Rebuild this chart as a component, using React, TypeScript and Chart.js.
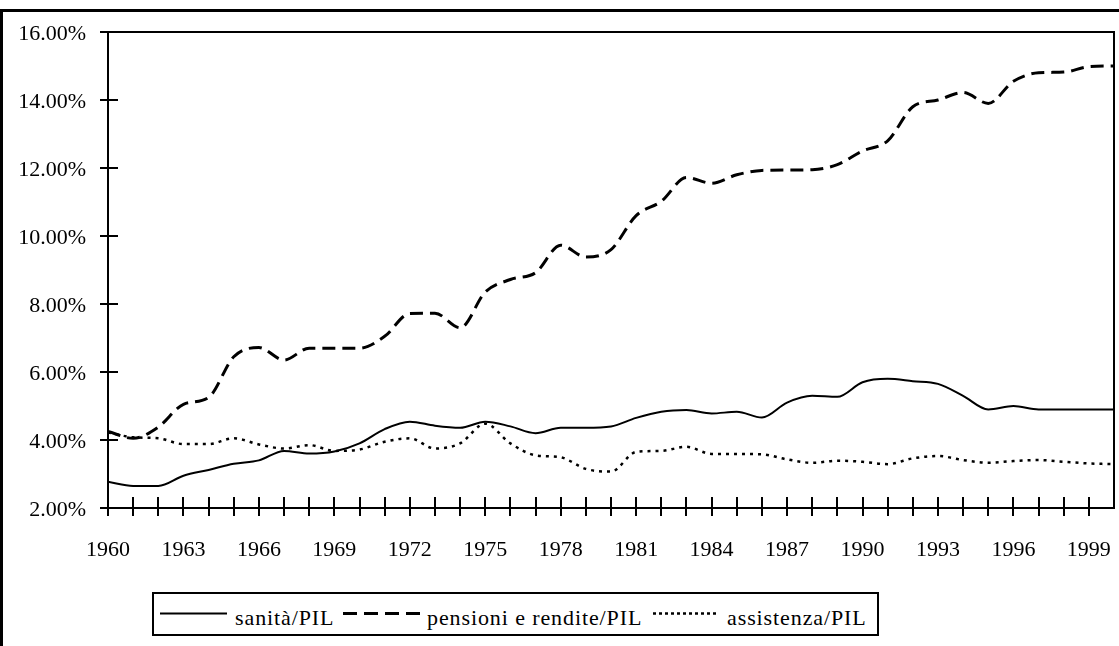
import React, { useEffect, useRef } from "react";
import { Chart, registerables } from "chart.js";

Chart.register(...registerables);

const years = [
  1960, 1961, 1962, 1963, 1964, 1965, 1966, 1967, 1968, 1969,
  1970, 1971, 1972, 1973, 1974, 1975, 1976, 1977, 1978, 1979,
  1980, 1981, 1982, 1983, 1984, 1985, 1986, 1987, 1988, 1989,
  1990, 1991, 1992, 1993, 1994, 1995, 1996, 1997, 1998, 1999, 2000,
];

const sanita = [
  2.77, 2.65, 2.65, 2.95, 3.12, 3.3, 3.4, 3.68, 3.6, 3.66,
  3.9, 4.32, 4.54, 4.42, 4.36, 4.54, 4.4, 4.2, 4.36, 4.36,
  4.4, 4.65, 4.83, 4.88, 4.78, 4.83, 4.66, 5.1, 5.3, 5.27,
  5.7, 5.8, 5.73, 5.65, 5.3, 4.9, 5.0, 4.9, 4.9, 4.9, 4.9,
];

const pensioni = [
  4.25, 4.05, 4.38, 5.05, 5.25, 6.45, 6.72, 6.35, 6.7, 6.7,
  6.7, 7.05, 7.72, 7.73, 7.3, 8.35, 8.72, 8.92, 9.73, 9.38,
  9.6, 10.6, 11.02, 11.72, 11.55, 11.8, 11.93, 11.94, 11.95, 12.1,
  12.5, 12.8, 13.8, 14.0, 14.22, 13.9, 14.55, 14.8, 14.82, 14.98, 15.0,
];

const assistenza = [
  4.22, 4.08, 4.05, 3.88, 3.88, 4.05, 3.87, 3.75, 3.85, 3.68,
  3.72, 3.95, 4.05, 3.75, 3.9, 4.48, 3.9, 3.55, 3.49, 3.15,
  3.07, 3.65, 3.68, 3.8, 3.59, 3.59, 3.58, 3.43, 3.33, 3.39,
  3.36, 3.29, 3.46, 3.53, 3.41, 3.33, 3.38, 3.41, 3.36, 3.31, 3.29,
];

const seriesLabels = ["sanità/PIL", "pensioni e rendite/PIL", "assistenza/PIL"];
const yTicks = [2, 4, 6, 8, 10, 12, 14, 16];

const W = 1119;
const CH = 580;
const FONT = "'Liberation Serif', 'Times New Roman', serif";

const framePlugin = {
  id: "framePlugin",
  afterDatasetsDraw(chart: any) {
    const { ctx, chartArea, scales } = chart;
    const { left, top, right, bottom } = chartArea;
    ctx.save();
    ctx.strokeStyle = "#000";
    ctx.lineWidth = 2;
    ctx.strokeRect(left, top, right - left, bottom - top);
    ctx.beginPath();
    years.forEach((yr) => {
      if (yr >= 2000) return;
      const x = Math.round(scales.x.getPixelForValue(yr));
      ctx.moveTo(x, bottom - 11);
      ctx.lineTo(x, bottom + 8);
    });
    yTicks.forEach((v) => {
      const y = Math.round(scales.y.getPixelForValue(v));
      ctx.moveTo(left - 8, y);
      ctx.lineTo(left + 10, y);
    });
    ctx.stroke();
    ctx.restore();
  },
};

function ChartView() {
  const ref = useRef<HTMLCanvasElement | null>(null);
  useEffect(() => {
    if (!ref.current) return;
    const mk = (vals: number[]) => vals.map((v, i) => ({ x: years[i], y: v }));
    const chart = new Chart(ref.current, {
      type: "line",
      data: {
        datasets: [
          {
            label: seriesLabels[0],
            data: mk(sanita),
            borderColor: "#000",
            borderWidth: 2,
            pointRadius: 0,
            cubicInterpolationMode: "monotone",
          },
          {
            label: seriesLabels[1],
            data: mk(pensioni),
            borderColor: "#000",
            borderWidth: 3,
            borderDash: [13, 7],
            pointRadius: 0,
            cubicInterpolationMode: "monotone",
          },
          {
            label: seriesLabels[2],
            data: mk(assistenza),
            borderColor: "#000",
            borderWidth: 2.5,
            borderDash: [3, 5],
            pointRadius: 0,
            cubicInterpolationMode: "monotone",
          },
        ],
      },
      options: {
        responsive: false,
        animation: false,
        events: [],
        layout: { padding: { top: 32, right: W - 1114, left: 0, bottom: 0 } },
        plugins: { legend: { display: false }, tooltip: { enabled: false } },
        scales: {
          x: {
            type: "linear",
            min: 1960,
            max: 2000,
            grid: { display: false, drawTicks: false },
            border: { display: false },
            ticks: {
              stepSize: 1,
              autoSkip: false,
              maxRotation: 0,
              minRotation: 0,
              padding: 29,
              color: "#000",
              font: { family: FONT, size: 22 },
              callback: (v: any) => {
                const n = Number(v);
                return (n - 1960) % 3 === 0 && n < 2000 ? String(n) : "";
              },
            },
            afterFit: (s: any) => {
              s.height = CH - 508;
              s.paddingLeft = 0;
              s.paddingRight = 0;
            },
          },
          y: {
            min: 2,
            max: 16,
            grid: { display: false, drawTicks: false },
            border: { display: false },
            ticks: {
              stepSize: 2,
              padding: 22,
              labelOffset: 2,
              color: "#000",
              font: { family: FONT, size: 22 },
              callback: (v: any) => Number(v).toFixed(2) + "%",
            },
            afterFit: (s: any) => {
              s.width = 108;
              s.paddingTop = 0;
              s.paddingBottom = 0;
            },
          },
        },
      },
      plugins: [framePlugin],
    });
    return () => chart.destroy();
  }, []);
  return (
    <canvas
      ref={ref}
      width={W}
      height={CH}
      style={{ position: "absolute", left: 0, top: 0, width: W, height: CH }}
    />
  );
}

const legendText: React.CSSProperties = {
  position: "absolute",
  top: 13,
  fontFamily: FONT,
  fontSize: 22,
  lineHeight: "22px",
  letterSpacing: "0.9px",
  whiteSpace: "nowrap",
  color: "#000",
};

function Legend() {
  return (
    <div
      style={{
        position: "absolute",
        left: 152,
        top: 592,
        width: 727,
        height: 44,
        border: "2px solid #000",
        boxSizing: "border-box",
        background: "#fff",
      }}
    >
      <svg style={{ position: "absolute", left: 0, top: 0 }} width={723} height={40}>
        <line x1={6} y1={19.5} x2={73} y2={19.5} stroke="#000" strokeWidth={2} />
        <line x1={189} y1={19.5} x2={266} y2={19.5} stroke="#000" strokeWidth={3} strokeDasharray="14 7" />
        <line x1={499} y1={19.5} x2={563} y2={19.5} stroke="#000" strokeWidth={2.5} strokeDasharray="3 3" />
      </svg>
      <span style={{ ...legendText, left: 81 }}>{seriesLabels[0]}</span>
      <span style={{ ...legendText, left: 273 }}>{seriesLabels[1]}</span>
      <span style={{ ...legendText, left: 573 }}>{seriesLabels[2]}</span>
    </div>
  );
}

export default function App() {
  return (
    <div
      style={{
        position: "fixed",
        left: 0,
        top: 0,
        width: W,
        height: 646,
        overflow: "hidden",
        background: "#fff",
      }}
    >
      <div
        style={{
          position: "absolute",
          left: 0,
          top: 9,
          width: 1300,
          height: 800,
          borderTop: "3px solid #000",
          borderLeft: "3px solid #000",
          boxSizing: "border-box",
        }}
      />
      <ChartView />
      <Legend />
    </div>
  );
}
